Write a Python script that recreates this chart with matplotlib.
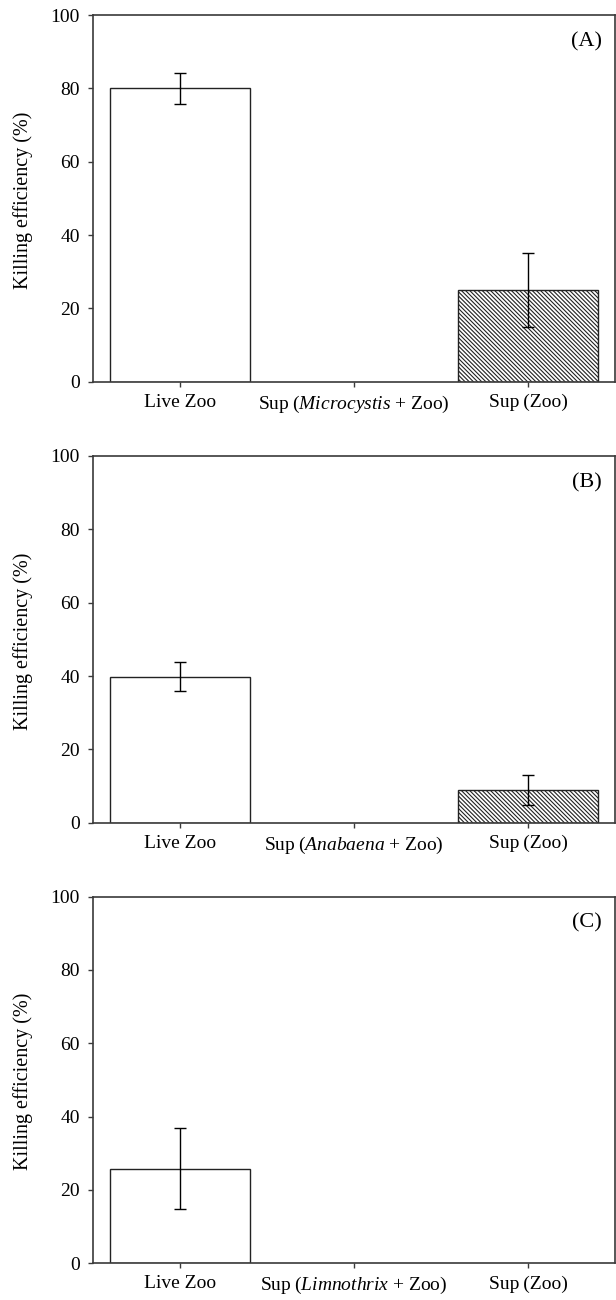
import matplotlib
matplotlib.use("Agg")
import matplotlib.pyplot as plt

plt.rcParams['font.family'] = ['Liberation Serif', 'DejaVu Serif']
plt.rcParams['mathtext.fontset'] = 'custom'
plt.rcParams['mathtext.rm'] = 'Liberation Serif'
plt.rcParams['mathtext.it'] = 'Liberation Serif:italic'
plt.rcParams['hatch.linewidth'] = 0.8
plt.rcParams['hatch.color'] = 'black'

# ---- data ----
panel_tags = ["(A)", "(B)", "(C)"]
organisms = ["Microcystis", "Anabaena", "Limnothrix"]
live_zoo = [80.0, 39.8, 25.8]
live_zoo_err = [4.3, 4.0, 11.0]
sup_org_zoo = [0.0, 0.0, 0.0]
sup_zoo = [25.0, 8.9, 0.0]
sup_zoo_err = [10.0, 4.0, 0.0]
y_ticks = [0, 20, 40, 60, 80, 100]
y_label = "Killing efficiency (%)"

fig = plt.figure(figsize=(6.16, 13.0), dpi=100)

left = 93 / 616
width = 522 / 616
height = 366.7 / 1300
bottoms = [1 - 381.7 / 1300, 1 - 822.7 / 1300, 1 - 1263.3 / 1300]

spine_col = '#3a3a3a'
for i in range(3):
    ax = fig.add_axes([left, bottoms[i], width, height])
    labels = ["Live Zoo",
              "Sup\u2009($\\it{" + organisms[i] + "}$ + Zoo)",
              "Sup\u2009(Zoo)"]
    x = [0, 1, 2]
    vals = [live_zoo[i], sup_org_zoo[i], sup_zoo[i]]
    hatches = ['', '', '\\' * 8]
    for xi, v, h in zip(x, vals, hatches):
        if v > 0:
            ax.bar(xi, v, width=0.8, color='white', edgecolor='#222222',
                   linewidth=1.0, hatch=h, zorder=2)
    ax.errorbar([0], [live_zoo[i]], yerr=[live_zoo_err[i]], fmt='none',
                ecolor='black', elinewidth=1.0, capsize=4.3, capthick=1.0, zorder=3)
    if sup_zoo[i] > 0:
        ax.errorbar([2], [sup_zoo[i]], yerr=[sup_zoo_err[i]], fmt='none',
                    ecolor='black', elinewidth=1.0, capsize=4.3, capthick=1.0, zorder=3)
    ax.set_xlim(-0.5, 2.5)
    ax.set_ylim(0, 100)
    ax.set_yticks(y_ticks)
    ax.set_xticks(x)
    ax.set_xticklabels(labels)
    ax.tick_params(axis='both', direction='out', length=3.6, width=1.0,
                   colors=spine_col, labelcolor='black', labelsize=14)
    ax.tick_params(axis='y', pad=6)
    ax.tick_params(axis='x', pad=5)
    for sp in ax.spines.values():
        sp.set_color(spine_col)
        sp.set_linewidth(1.2)
    ax.set_ylabel(y_label, fontsize=14.5)
    ax.yaxis.set_label_coords(-0.115, 0.496)
    ax.text(0.975, 0.928, panel_tags[i], transform=ax.transAxes,
            ha='right', va='center', fontsize=16)

fig.savefig("out.png", dpi=100)
